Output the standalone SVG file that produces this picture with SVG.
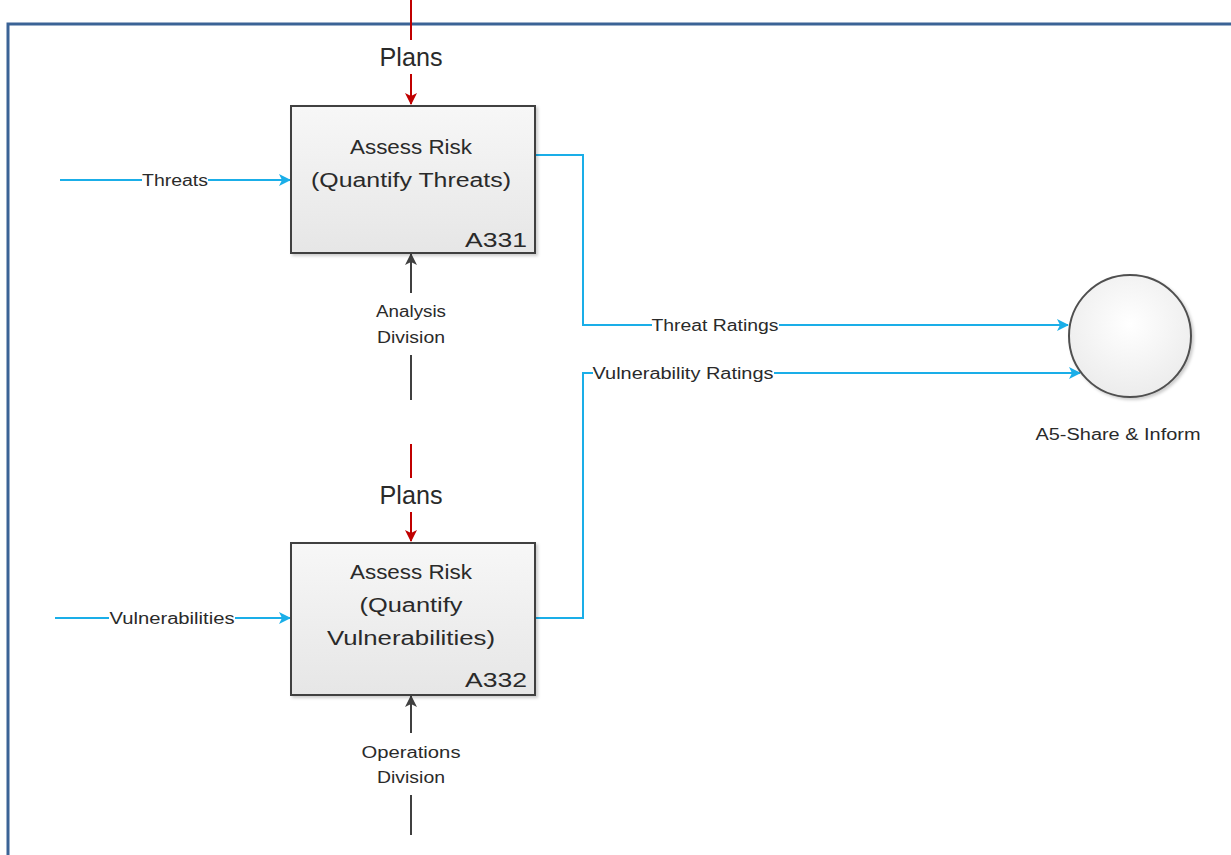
<svg xmlns="http://www.w3.org/2000/svg" width="1231" height="855" viewBox="0 0 1231 855">
<style>
text{font-family:"Liberation Sans",Arial,sans-serif;fill:#2a2a2a}
.title{font-size:20px;text-anchor:middle}
.code{font-size:21px;text-anchor:end}
.lbl{font-size:16px;text-anchor:middle}
.plans{font-size:25px;text-anchor:middle}
.cyan{stroke:#1aaee8;stroke-width:2;fill:none}
.red{stroke:#c00000;stroke-width:2;fill:none}
.blk{stroke:#404040;stroke-width:2;fill:none}
.box{fill:url(#g);stroke:#404040;stroke-width:2}
.bg{fill:#ffffff}
</style>
<defs>
<linearGradient id="g" x1="0" y1="0" x2="0" y2="1"><stop offset="0" stop-color="#f7f7f7"/><stop offset="1" stop-color="#e6e6e6"/></linearGradient>
<radialGradient id="cg" cx="0.5" cy="0.4" r="0.6"><stop offset="0" stop-color="#ffffff"/><stop offset="1" stop-color="#ececec"/></radialGradient>
<marker id="ac" markerWidth="12" markerHeight="12" refX="11" refY="6" orient="auto" markerUnits="userSpaceOnUse"><path d="M0,0 L12,6 L0,12 L3,6 Z" fill="#1aaee8"/></marker>
<marker id="ar" markerWidth="12" markerHeight="12" refX="11" refY="6" orient="auto" markerUnits="userSpaceOnUse"><path d="M0,0 L12,6 L0,12 L3,6 Z" fill="#c00000"/></marker>
<marker id="ab" markerWidth="12" markerHeight="12" refX="11" refY="6" orient="auto" markerUnits="userSpaceOnUse"><path d="M0,0 L12,6 L0,12 L3,6 Z" fill="#404040"/></marker>
<filter id="sh" x="-10%" y="-10%" width="120%" height="120%"><feDropShadow dx="2" dy="2" stdDeviation="1.5" flood-color="#000" flood-opacity="0.2"/></filter>
</defs>
<rect width="1231" height="855" fill="#ffffff"/>
<g id="frame"><path d="M8,855 L8,24 L1231,24" fill="none" stroke="#3b6396" stroke-width="3"/></g>
<g id="connectors">
<path class="red" d="M411,0 L411,40"/>
<path class="red" d="M411,74 L411,104" marker-end="url(#ar)"/>
<path class="red" d="M411,444 L411,478"/>
<path class="red" d="M411,512 L411,541" marker-end="url(#ar)"/>
<path class="cyan" d="M60,180 L290,180" marker-end="url(#ac)"/>
<path class="cyan" d="M55,618 L290,618" marker-end="url(#ac)"/>
<path class="cyan" d="M536,155 L583,155 L583,325 L1068,325" marker-end="url(#ac)"/>
<path class="cyan" d="M536,618 L583,618 L583,373 L1080,373" marker-end="url(#ac)"/>
<path class="blk" d="M411,400 L411,254" marker-end="url(#ab)"/>
<path class="blk" d="M411,835 L411,696" marker-end="url(#ab)"/>
<g id="labels">
<rect class="bg" x="375" y="40" width="72" height="34"/>
<text class="plans" x="411" y="66" textLength="63" lengthAdjust="spacingAndGlyphs">Plans</text>
<rect class="bg" x="375" y="478" width="72" height="34"/>
<text class="plans" x="411" y="504" textLength="63" lengthAdjust="spacingAndGlyphs">Plans</text>
<rect class="bg" x="142" y="170" width="66" height="20"/>
<text class="lbl" x="175" y="186" textLength="66" lengthAdjust="spacingAndGlyphs">Threats</text>
<rect class="bg" x="109" y="608" width="126" height="20"/>
<text class="lbl" x="172" y="624" textLength="125" lengthAdjust="spacingAndGlyphs">Vulnerabilities</text>
<rect class="bg" x="652" y="315" width="127" height="20"/>
<text class="lbl" x="715" y="331" textLength="127" lengthAdjust="spacingAndGlyphs">Threat Ratings</text>
<rect class="bg" x="593" y="363" width="181" height="20"/>
<text class="lbl" x="683" y="379" textLength="181" lengthAdjust="spacingAndGlyphs">Vulnerability Ratings</text>
<rect class="bg" x="372" y="293" width="78" height="62"/>
<text class="lbl" x="411" y="317" textLength="70" lengthAdjust="spacingAndGlyphs">Analysis</text>
<text class="lbl" x="411" y="343" textLength="68" lengthAdjust="spacingAndGlyphs">Division</text>
<rect class="bg" x="360" y="733" width="102" height="62"/>
<text class="lbl" x="411" y="758" textLength="99" lengthAdjust="spacingAndGlyphs">Operations</text>
<text class="lbl" x="411" y="783" textLength="68" lengthAdjust="spacingAndGlyphs">Division</text>
</g>
</g>
<g id="A331">
<rect class="box" x="291" y="106" width="244" height="147" filter="url(#sh)"/>
<text class="title" x="411" y="154" textLength="122" lengthAdjust="spacingAndGlyphs">Assess Risk</text>
<text class="title" x="411" y="187" textLength="200" lengthAdjust="spacingAndGlyphs">(Quantify Threats)</text>
<text class="code" x="527" y="247" textLength="62" lengthAdjust="spacingAndGlyphs">A331</text>
</g>
<g id="A332">
<rect class="box" x="291" y="543" width="244" height="152" filter="url(#sh)"/>
<text class="title" x="411" y="579" textLength="122" lengthAdjust="spacingAndGlyphs">Assess Risk</text>
<text class="title" x="411" y="612" textLength="103" lengthAdjust="spacingAndGlyphs">(Quantify</text>
<text class="title" x="411" y="645" textLength="168" lengthAdjust="spacingAndGlyphs">Vulnerabilities)</text>
<text class="code" x="527" y="687" textLength="62" lengthAdjust="spacingAndGlyphs">A332</text>
</g>
<g id="A5">
<circle cx="1130" cy="336" r="61" fill="url(#cg)" stroke="#505050" stroke-width="2" filter="url(#sh)"/>
<text class="lbl" x="1118" y="440" textLength="165" lengthAdjust="spacingAndGlyphs">A5-Share &amp; Inform</text>
</g>
</svg>
